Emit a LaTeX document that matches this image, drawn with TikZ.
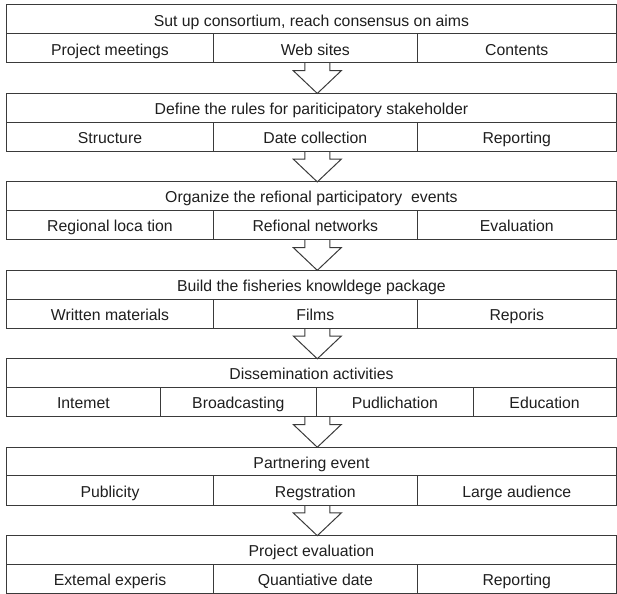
\documentclass[tikz,border=0pt]{standalone}
\usepackage{fontspec}
\setmainfont{Liberation Sans}
\definecolor{linec}{HTML}{3A3A3A}
\definecolor{textc}{HTML}{1E1E1E}
\tikzset{
  box/.style={draw=linec, line width=1pt, rectangle, inner sep=0pt, outer sep=0pt,
    anchor=north west, text=textc, text height=13.5pt, text depth=0pt,
    font=\fontsize{15.8}{18}\selectfont},
  titlebox/.style={box, minimum width=609.5pt, minimum height=28.7pt},
  cellbox/.style={box, minimum height=29.3pt},
  blockarrow/.style={draw=linec, line width=1pt, line join=miter}
}
\newcommand\rowthree[6]{%
  \node[titlebox] (t#1) at (6.7,#2) {#3};
  \node[cellbox, minimum width=206.6pt] (c#1a) at (6.7,#2+28.7) {#4};
  \node[cellbox, minimum width=204pt] (c#1b) at (213.3,#2+28.7) {#5};
  \node[cellbox, minimum width=198.9pt] (c#1c) at (417.3,#2+28.7) {#6};
}
\newcommand\blockarr[2]{%
  \coordinate (top#1) at (317.3,0 |- c#1b.south);
  \coordinate (tip#1) at (317.3,0 |- t#2.north);
  \draw[blockarrow] ([xshift=-12.5pt]top#1) -- ++(0,7.7) -- ++(-11.5,0) -- (tip#1)
    -- ++(24,-22.75) -- ++(-11.5,0) -- ++(0,-7.7);
}
\begin{document}
\begin{tikzpicture}[x=1pt,y=-1pt]
\useasboundingbox (0,0) rectangle (617,593);
\rowthree{1}{5}{Sut up consortium, reach consensus on aims}{Project meetings}{Web sites}{Contents}
\rowthree{2}{93.45}{Define the rules for pariticipatory stakeholder}{Structure}{Date collection}{Reporting}
\rowthree{3}{181.9}{Organize the refional participatory\ \ events}{Regional loca tion}{Refional networks}{Evaluation}
\rowthree{4}{270.35}{Build the fisheries knowldege package}{Written materials}{Films}{Reporis}
% row 5: four cells
\node[titlebox] (t5) at (6.7,358.8) {Dissemination activities};
\node[cellbox, minimum width=153.3pt] (c5a) at (6.7,387.5) {Intemet};
\node[cellbox, minimum width=156.7pt] (c5b) at (160,387.5) {Broadcasting};
\node[cellbox, minimum width=156.3pt] (c5c) at (316.7,387.5) {Pudlichation};
\node[cellbox, minimum width=143.2pt] (c5d) at (473,387.5) {Education};
\rowthree{6}{447.25}{Partnering event}{Publicity}{Regstration}{Large audience}
\rowthree{7}{535.7}{Project evaluation}{Extemal experis}{Quantiative date}{Reporting}
\blockarr{1}{2}
\blockarr{2}{3}
\blockarr{3}{4}
\blockarr{4}{5}
\blockarr{5}{6}
\blockarr{6}{7}
\end{tikzpicture}
\end{document}
